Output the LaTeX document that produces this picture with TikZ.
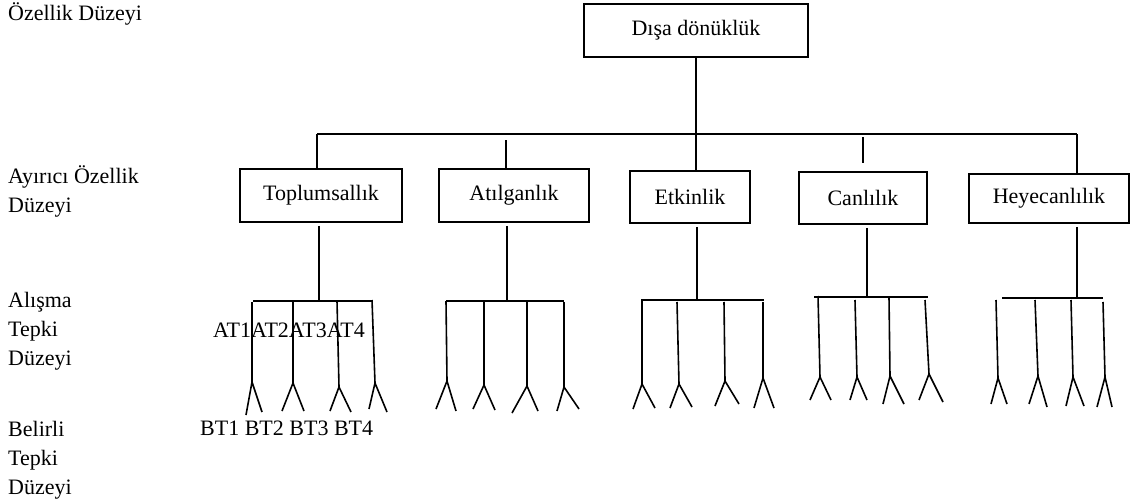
\documentclass[tikz,border=0pt]{standalone}
\usepackage{fontspec}
\setmainfont{Liberation Serif}
\tikzstyle{level}=[draw,line width=1.5pt,inner sep=0pt]
\tikzstyle{edge}=[draw,line width=1.6pt,-]
\tikzstyle{tag}=[anchor=base west,align=left,inner sep=0pt]

\begin{document}
\begin{tikzpicture}[x=1pt,y=-1pt,font=\fontsize{22}{29}\selectfont]
	\useasboundingbox (0,0) rectangle (1135,503);
	% Level names on the left (base = last line)
	\node[tag] (l1) at (8,21) {Özellik Düzeyi};
	\node[tag] (l2) at (8,212) {Ayırıcı Özellik\\Düzeyi};
	\node[tag] (l3) at (8,365) {Alışma\\Tepki\\Düzeyi};
	\node[tag] (l4) at (8,494) {Belirli\\Tepki\\Düzeyi};
	\node[tag] (at) at (213,337) {AT1AT2AT3AT4};
	\node[tag] (bt) at (200,435) {BT1 BT2 BT3 BT4};
	% Boxes
	\node[level,minimum width=224pt,minimum height=53pt] (top) at (696,30.5) {Dışa dönüklük};
	\node[level,minimum width=162pt,minimum height=53pt] (toplum) at (321,195.5) {Toplumsallık};
	\node[level,minimum width=150pt,minimum height=53pt] (atil) at (514,195.5) {Atılganlık};
	\node[level,minimum width=120pt,minimum height=52pt] (etkin) at (690,197) {Etkinlik};
	\node[level,minimum width=128pt,minimum height=52pt] (canli) at (863,198) {Canlılık};
	\node[level,minimum width=160pt,minimum height=49pt] (heyec) at (1049,198.5) {Heyecanlılık};
	% Upper branches
	\coordinate (hl) at (317,134);
	\coordinate (hr) at (1077,134);
	\coordinate (as) at (506,140);
	\coordinate (cs) at (863,137);
	\coordinate (ce) at (863,163);
	\path[edge] (hl) -- (hr);
	\path[edge] (top.south) -- (top.south |- etkin.north);
	\path[edge] (hl) -- (hl |- toplum.north);
	\path[edge] (as) -- (as |- atil.north);
	\path[edge] (cs) -- (ce);
	\path[edge] (hr) -- (hr |- heyec.north);
	% Stems and bars under the boxes
	\foreach \bx/\sx/\bl/\br/\by in {toplum/319/253/373/301, atil/507/446/564/301,
			etkin/697/642/764/300, canli/867/814/928/297, heyec/1077/1002/1103/298}
	{
		\coordinate (s) at (\sx,\by);
		\path[edge] (s |- \bx.south) ++(0,3) -- (s);
		\path[edge] (\bl,\by) -- (\br,\by);
	}
	% Habit lines and their forks
	\foreach \vx/\vt/\ax/\ay/\lx/\ly/\rx/\ry in {
			252/302/252/382/246/415/262/412, 293/301/293/383/282/411/304/411,
			337/301/339/387/330/411/351/412, 372/300/375/383/369/409/387/412,
			446/301/447/381/436/409/456/411, 484/302/484/385/473/409/495/410,
			527/302/527/386/512/413/538/411, 564/302/564/387/557/411/579/409,
			642/299/642/384/633/409/655/408, 677/302/679/384/670/408/692/407,
			724/302/725/381/715/406/739/404, 763/302/763/378/754/408/774/408,
			818/296/820/377/810/400/831/400, 855/300/857/377/850/400/867/400,
			889/297/890/376/883/404/904/404, 925/300/929/374/919/400/943/402,
			996/300/998/378/991/404/1007/404, 1035/300/1038/376/1029/404/1047/407,
			1071/300/1073/377/1066/406/1084/406, 1103/302/1105/377/1097/407/1112/407}
		\path[edge] (\vx,\vt) -- (\ax,\ay) (\lx,\ly) -- (\ax,\ay) -- (\rx,\ry);
\end{tikzpicture}
\end{document}
